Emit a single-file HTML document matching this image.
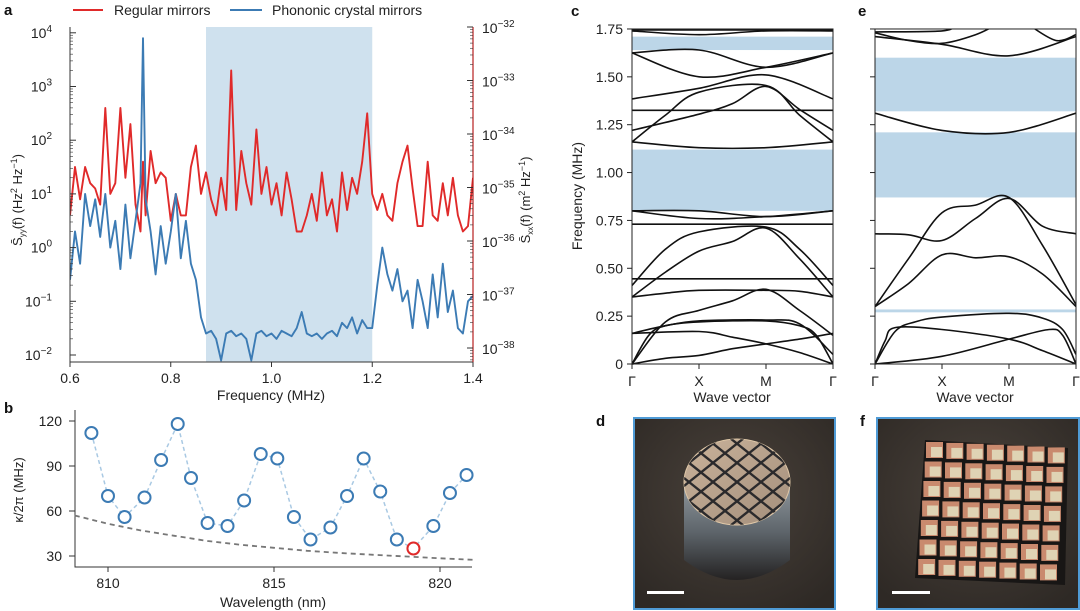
<!DOCTYPE html>
<html><head><meta charset="utf-8">
<style>
html,body{margin:0;padding:0;background:#fff;}
svg{display:block;font-family:"Liberation Sans",Arial,sans-serif;}
</style></head>
<body>
<svg id="fig" width="1080" height="611" viewBox="0 0 1080 611" xmlns="http://www.w3.org/2000/svg">
<defs>
<clipPath id="clipA"><rect x="70" y="27" width="403" height="335"/></clipPath>
<clipPath id="clipC"><rect x="632" y="29" width="201" height="336"/></clipPath>
<clipPath id="clipE"><rect x="875" y="29" width="201" height="336"/></clipPath>
<clipPath id="clipDisk"><ellipse cx="737" cy="482" rx="53" ry="43"/></clipPath>
<radialGradient id="bgd" cx="0.5" cy="0.4" r="0.7"><stop offset="0" stop-color="#4a423b"/><stop offset="1" stop-color="#2e2925"/></radialGradient>
<linearGradient id="disk" x1="0" y1="0" x2="1" y2="1"><stop offset="0" stop-color="#c9b29a"/><stop offset="1" stop-color="#a48f7c"/></linearGradient>
<linearGradient id="body" x1="0" y1="0" x2="0" y2="1"><stop offset="0" stop-color="#8e969c"/><stop offset="0.5" stop-color="#5d646a"/><stop offset="1" stop-color="#242222"/></linearGradient>
</defs>
<g id="panelA"></g>
<g id="panelB"></g>
<g id="panelC"></g>
<g id="panelE"></g>

<g>
<rect x="634" y="418" width="201" height="191" fill="url(#bgd)" stroke="#4f9bd6" stroke-width="2"/>
<path d="M684 485 L684 560 Q737 600 790 560 L790 485 Z" fill="url(#body)"/>
<ellipse cx="737" cy="482" rx="53" ry="43" fill="url(#disk)" stroke="#e0c8a8" stroke-width="1"/>
<g id="diskGrid" clip-path="url(#clipDisk)" stroke="#2b2a2c" stroke-width="2.4"></g>
<rect x="647" y="591" width="37" height="3" fill="#fff"/>
</g>

<g>
<rect x="877" y="418" width="202" height="191" fill="url(#bgd)" stroke="#4f9bd6" stroke-width="2"/>
<g id="tiles"></g>
<rect x="892" y="591" width="38" height="3" fill="#fff"/>
</g>
</svg>
<script>
// ---------- Panel a data (log10 of spectral density) ----------
const freqA = [0.60,0.61,0.62,0.63,0.64,0.65,0.66,0.67,0.68,0.69,0.70,0.71,0.72,0.73,0.74,0.745,0.75,0.76,0.77,0.78,0.79,0.80,0.81,0.82,0.83,0.84,0.85,0.86,0.87,0.88,0.89,0.90,0.91,0.92,0.93,0.94,0.95,0.96,0.97,0.98,0.99,1.00,1.01,1.02,1.03,1.04,1.05,1.06,1.07,1.08,1.09,1.10,1.11,1.12,1.13,1.14,1.15,1.16,1.17,1.18,1.19,1.20,1.21,1.22,1.23,1.24,1.25,1.26,1.27,1.28,1.29,1.30,1.31,1.32,1.33,1.34,1.35,1.36,1.37,1.38,1.39,1.40];
const regularLog = [0.6,1.5,0.9,1.5,1.2,1.1,0.8,2.6,1.0,1.2,2.6,1.3,2.3,0.8,0.3,1.6,0.6,1.8,1.2,1.4,1.3,0.5,1.0,0.6,0.6,1.5,1.9,1.0,1.4,0.9,0.6,1.3,0.7,3.3,0.7,1.8,1.2,0.8,2.2,1.0,1.5,0.8,1.2,0.6,1.4,0.9,0.3,0.3,0.6,1.0,0.5,1.4,0.6,0.9,0.3,1.4,0.7,1.3,1.0,1.6,2.5,1.0,0.7,1.0,0.6,0.5,1.2,1.6,1.9,1.1,0.4,0.4,1.6,0.6,0.5,1.2,0.6,1.3,0.6,0.3,0.4,1.3];
const phononicLog = [-0.6,0.3,-0.3,1.0,0.4,0.9,0.2,1.0,0.0,0.5,-0.4,0.8,-0.2,0.5,1.2,3.9,0.9,0.3,-0.5,0.4,-0.3,0.3,1.0,-0.2,0.5,-0.3,-0.6,-1.3,-1.6,-1.55,-1.7,-2.1,-1.6,-1.55,-1.65,-1.6,-1.7,-2.1,-1.6,-1.55,-1.65,-1.6,-1.7,-1.55,-1.6,-1.65,-1.5,-1.2,-1.6,-1.65,-1.6,-1.7,-1.6,-1.55,-1.65,-1.4,-1.5,-1.3,-1.6,-1.35,-1.5,-1.5,-0.7,0.0,-0.5,-0.8,-0.4,-1.0,-0.8,-1.5,-0.6,-1.0,-1.5,-0.5,-1.3,-0.3,-1.2,-0.8,-1.5,-1.6,-1.0,-0.9];
const gapA = [0.87, 1.20];
const xTicksA = [0.6,0.8,1.0,1.2,1.4];
const xTickLabelsA = ["0.6","0.8","1.0","1.2","1.4"];
const yDecadesA = [-2,-1,0,1,2,3,4];
const rightDecadesA = [-32,-33,-34,-35,-36,-37,-38];

// ---------- Panel b data ----------
const wavelengthB = [809.5,810.0,810.5,811.1,811.6,812.1,812.5,813.0,813.6,814.1,814.6,815.1,815.6,816.1,816.7,817.2,817.7,818.2,818.7,819.2,819.8,820.3,820.8];
const kappaB = [112,70,56,69,94,118,82,52,50,67,98,95,56,41,49,70,95,73,41,35,50,72,84];
const highlightIndexB = 19;
const fitWavelengthB = [809.0,810,811,812,813,814,815,816,817,818,819,820,821];
const fitKappaB = [57,51.5,47,43.5,40,37.5,35.5,33.5,32,30.8,29.7,28.5,27.5];
const xTicksB = [810,815,820];
const yTicksB = [30,60,90,120];

// ---------- Panel c data ----------
const bandsC = [
 [[0,0],[0.5,0.03],[1,0.045],[1.5,0.08],[2,0.105],[2.5,0.13],[3,0.16]],
 [[0,0],[0.25,0.15],[0.5,0.2],[1,0.22],[2,0.225],[2.5,0.2],[2.75,0.15],[3,0]],
 [[0,0],[0.5,0.22],[1,0.28],[1.5,0.33],[2,0.39],[2.5,0.28],[3,0.15]],
 [[0,0.16],[1,0.17],[1.5,0.14],[2,0.105],[2.5,0.06],[3,0]],
 [[0,0.16],[0.5,0.2],[1,0.225],[2,0.23],[2.5,0.21],[3,0.05]],
 [[0,0.35],[0.5,0.37],[1,0.385],[2,0.385],[2.5,0.38],[3,0.35]],
 [[0,0.35],[0.5,0.48],[1,0.59],[1.5,0.64],[2,0.71],[2.5,0.55],[3,0.35]],
 [[0,0.41],[0.5,0.6],[1,0.69],[2,0.715],[2.5,0.6],[3,0.41]],
 [[0,0.445],[3,0.445]],
 [[0,0.73],[3,0.73]],
 [[0,0.8],[1,0.76],[2,0.77],[3,0.8]],
 [[0,0.8],[1,0.8],[2,0.77],[3,0.8]],
 [[0,1.16],[1,1.13],[2,1.13],[3,1.16]],
 [[0,1.16],[0.5,1.3],[1,1.42],[2,1.455],[2.5,1.3],[3,1.16]],
 [[0,1.22],[1,1.305],[1.5,1.36],[2,1.45],[2.5,1.33],[3,1.22]],
 [[0,1.325],[3,1.325]],
 [[0,1.385],[1,1.44],[2,1.51],[3,1.385]],
 [[0,1.625],[1,1.64],[2,1.55],[3,1.625]],
 [[0,1.625],[1,1.5],[2,1.55],[3,1.625]],
 [[0,1.745],[3,1.745]],
 [[0,1.74],[1,1.72],[2,1.74],[3,1.74]]
];
const gapsC = [[0.80,1.12],[1.64,1.71]];
// ---------- Panel e data ----------
const bandsE = [
 [[0,0],[1,0.04],[2,0.13],[2.6,0.18],[2.8,0.15],[3,0]],
 [[0,0],[0.15,0.12],[0.3,0.19],[1,0.18],[2,0.13],[2.5,0.07],[3,0]],
 [[0,0],[0.3,0.17],[0.6,0.22],[1,0.245],[2,0.265],[2.5,0.24],[2.8,0.18],[3,0.05]],
 [[0,0.3],[0.5,0.42],[1,0.57],[1.5,0.555],[2,0.56],[2.5,0.47],[3,0.3]],
 [[0,0.3],[0.5,0.55],[1,0.79],[1.5,0.83],[2,0.87],[2.5,0.62],[3,0.31]],
 [[0,0.68],[0.5,0.675],[1,0.645],[1.5,0.76],[2,0.865],[2.5,0.72],[3,0.68]],
 [[0,1.31],[1,1.22],[2,1.21],[3,1.31]],
 [[0,1.71],[1,1.67],[2,1.61],[3,1.71]],
 [[0,1.73],[0.5,1.69],[1,1.675],[1.5,1.72],[1.8,1.77]],
 [[0,1.735],[1,1.74],[1.2,1.77]],
 [[2.3,1.77],[2.7,1.69],[3,1.72]]
];
const gapsE = [[0.27,0.285],[0.87,1.21],[1.32,1.60]];
const freqTicks = [0,0.25,0.5,0.75,1.0,1.25,1.5,1.75];
const freqTickLabels = ["0","0.25","0.50","0.75","1.00","1.25","1.50","1.75"];
const kTicks = [0,1,2,3];
const kTickLabels = ["Γ","X","M","Γ"];

const NS = "http://www.w3.org/2000/svg";
function mk(parent, tag, attrs, text){
  const e = document.createElementNS(NS, tag);
  for (const k in attrs) e.setAttribute(k, attrs[k]);
  if (text !== undefined) e.textContent = text;
  parent.appendChild(e); return e;
}
function smooth(pts){
  let d = "M"+pts[0][0].toFixed(1)+","+pts[0][1].toFixed(1);
  for (let i=0;i<pts.length-1;i++){
    const p0=pts[Math.max(0,i-1)],p1=pts[i],p2=pts[i+1],p3=pts[Math.min(pts.length-1,i+2)];
    const c1=[p1[0]+(p2[0]-p0[0])/6,p1[1]+(p2[1]-p0[1])/6];
    const c2=[p2[0]-(p3[0]-p1[0])/6,p2[1]-(p3[1]-p1[1])/6];
    d+=" C"+c1[0].toFixed(1)+","+c1[1].toFixed(1)+" "+c2[0].toFixed(1)+","+c2[1].toFixed(1)+" "+p2[0].toFixed(1)+","+p2[1].toFixed(1);
  }
  return d;
}

// ================= Panel a =================
(function(){
  const g = document.getElementById("panelA");
  const xA = f => 70 + (f-0.6)/0.8*403;
  const yA = l => 355 - (l+2)*53.7;
  const sh = mk(g,"rect",{x:xA(gapA[0]),y:27,width:xA(gapA[1])-xA(gapA[0]),height:335,fill:"#cfe1ee"});
  
  
  const series = [[regularLog,"#e02a2a","regular-mirrors-trace"],[phononicLog,"#3c7bb4","phononic-mirrors-trace"]];
  series.forEach(s=>{
    let d = "";
    freqA.forEach((f,i)=>{ d += (i?"L":"M")+xA(f).toFixed(1)+","+yA(s[0][i]).toFixed(1); });
    const p = mk(g,"path",{d:d,fill:"none",stroke:s[1],"stroke-width":1.9,"clip-path":"url(#clipA)","stroke-linejoin":"round"});
    
    
  });
  const ax = mk(g,"path",{d:"M70,27 L70,362 L473,362",fill:"none",stroke:"#333","stroke-width":1});
  
  
  mk(g,"line",{x1:473,y1:27,x2:473,y2:362,stroke:"#b82020","stroke-width":1.2});
  yDecadesA.forEach(dc=>{
    mk(g,"line",{x1:70,y1:yA(dc),x2:76,y2:yA(dc),stroke:"#333"});
    for(let m=2;m<10;m++){ const yy=yA(dc+Math.log10(m)); if(yy>27) mk(g,"line",{x1:70,y1:yy,x2:73,y2:yy,stroke:"#333","stroke-width":0.6}); }
    const t = mk(g,"text",{x:52,y:yA(dc)+5,"text-anchor":"end","font-size":14,fill:"#222"},"10");
    
    
    mk(t,"tspan",{dy:-6,"font-size":10},dc<0?"−"+(-dc):String(dc));
  });
  rightDecadesA.forEach((dc,i)=>{
    const yy = 27 + i*53.5;
    mk(g,"line",{x1:467,y1:yy,x2:473,y2:yy,stroke:"#333"});
    for(let m=2;m<10;m++){ const ym = yy+53.5-Math.log10(m)*53.5; if(ym<362) mk(g,"line",{x1:470,y1:ym,x2:473,y2:ym,stroke:"#333","stroke-width":0.6}); }
    const t = mk(g,"text",{x:482,y:yy+6,"font-size":14,fill:"#222"},"10");
    
    
    mk(t,"tspan",{dy:-6,"font-size":10},"−"+(-dc));
  });
  xTicksA.forEach((f,i)=>{
    mk(g,"line",{x1:xA(f),y1:362,x2:xA(f),y2:367,stroke:"#333"});
    const t = mk(g,"text",{x:xA(f),y:383,"text-anchor":"middle","font-size":14,fill:"#222"},xTickLabelsA[i]);
    
    
  });
  const xt = mk(g,"text",{x:271,y:400,"text-anchor":"middle","font-size":14,fill:"#222"},"Frequency (MHz)");
  
  
  const yt = mk(g,"text",{transform:"translate(22,200) rotate(-90)","text-anchor":"middle","font-size":13,fill:"#222"},"S̄");
  
  
  mk(yt,"tspan",{dy:3,"font-size":8},"yy");
  mk(yt,"tspan",{dy:-3},"(f) (Hz");
  mk(yt,"tspan",{dy:-5,"font-size":9},"2");
  mk(yt,"tspan",{dy:5}," Hz");
  mk(yt,"tspan",{dy:-5,"font-size":9},"−1");
  mk(yt,"tspan",{dy:5},")");
  const yr = mk(g,"text",{transform:"translate(530,200) rotate(-90)","text-anchor":"middle","font-size":13,fill:"#222"},"S̄");
  
  
  mk(yr,"tspan",{dy:3,"font-size":8},"xx");
  mk(yr,"tspan",{dy:-3},"(f) (m");
  mk(yr,"tspan",{dy:-5,"font-size":9},"2");
  mk(yr,"tspan",{dy:5}," Hz");
  mk(yr,"tspan",{dy:-5,"font-size":9},"−1");
  mk(yr,"tspan",{dy:5},")");
  const lg = mk(g,"g",{});
  
  
  mk(lg,"line",{x1:73,y1:10,x2:103,y2:10,stroke:"#e02a2a","stroke-width":2});
  mk(lg,"text",{x:114,y:15,"font-size":14,fill:"#222"},"Regular mirrors");
  mk(lg,"line",{x1:230,y1:10,x2:262,y2:10,stroke:"#3c7bb4","stroke-width":2});
  mk(lg,"text",{x:272,y:15,"font-size":14,fill:"#222"},"Phononic crystal mirrors");
  const la = mk(g,"text",{x:4,y:15,"font-size":15,"font-weight":"bold",fill:"#111"},"a");
  
  
})();

// ================= Panel b =================
(function(){
  const g = document.getElementById("panelB");
  const xB = w => 108 + (w-810)*33.2;
  const yB = v => 556 - (v-30)*1.5;
  mk(g,"path",{d:"M75,410 L75,567 L472,567",fill:"none",stroke:"#333"});
  yTicksB.forEach(v=>{
    mk(g,"line",{x1:69,y1:yB(v),x2:75,y2:yB(v),stroke:"#333"});
    const t = mk(g,"text",{x:62,y:yB(v)+5,"text-anchor":"end","font-size":14,fill:"#222"},String(v));
    
    
  });
  xTicksB.forEach(w=>{
    mk(g,"line",{x1:xB(w),y1:567,x2:xB(w),y2:572,stroke:"#333"});
    const t = mk(g,"text",{x:xB(w),y:588,"text-anchor":"middle","font-size":14,fill:"#222"},String(w));
    
    
  });
  let fd = "";
  fitWavelengthB.forEach((w,i)=>{ fd += (i?"L":"M")+xB(w).toFixed(1)+","+yB(fitKappaB[i]).toFixed(1); });
  const fp = mk(g,"path",{d:fd,fill:"none",stroke:"#777","stroke-width":1.8,"stroke-dasharray":"5,4"});
  
  
  let cd = "";
  wavelengthB.forEach((w,i)=>{ cd += (i?"L":"M")+xB(w).toFixed(1)+","+yB(kappaB[i]).toFixed(1); });
  const cp = mk(g,"path",{d:cd,fill:"none",stroke:"#a9c9e3","stroke-width":1.5,"stroke-dasharray":"4,3"});
  
  
  wavelengthB.forEach((w,i)=>{
    const c = mk(g,"circle",{cx:xB(w),cy:yB(kappaB[i]),r:6,fill:"#fff",stroke:i===highlightIndexB?"#e02a2a":"#3c7bb4","stroke-width":2});
    
    
  });
  const xt = mk(g,"text",{x:273,y:607,"text-anchor":"middle","font-size":14,fill:"#222"},"Wavelength (nm)");
  
  
  const yt = mk(g,"text",{transform:"translate(23,490) rotate(-90)","text-anchor":"middle","font-size":13,fill:"#222"},"κ/2π (MHz)");
  
  
  const lb = mk(g,"text",{x:4,y:413,"font-size":15,"font-weight":"bold",fill:"#111"},"b");
  
  
})();

// ================= Panels c, e =================
function bandPanel(id, x0, bands, gaps, clip, letter, lx, showY){
  const g = document.getElementById(id);
  const xK = k => x0 + k*67;
  const yF = f => 364 - f/0.25*47.86;
  gaps.forEach(gp=>{
    const r = mk(g,"rect",{x:x0,y:yF(gp[1]),width:201,height:yF(gp[0])-yF(gp[1]),fill:"#bcd6e8"});
    
    
  });
  const bg = mk(g,"g",{"clip-path":"url(#"+clip+")"});
  bands.forEach(b=>{
    const pts = b.map(p=>[xK(p[0]),yF(p[1])]);
    const p = mk(bg,"path",{d:smooth(pts),fill:"none",stroke:"#111","stroke-width":1.6});
    
    
  });
  mk(g,"rect",{x:x0,y:yF(1.75),width:201,height:yF(0)-yF(1.75),fill:"none",stroke:"#222","stroke-width":1});
  freqTicks.forEach((f,i)=>{
    mk(g,"line",{x1:x0-5,y1:yF(f),x2:x0,y2:yF(f),stroke:"#222"});
    if(showY){
      const t = mk(g,"text",{x:x0-9,y:yF(f)+5,"text-anchor":"end","font-size":14,fill:"#222"},freqTickLabels[i]);
      
      
    }
  });
  kTicks.forEach((k,i)=>{
    mk(g,"line",{x1:xK(k),y1:364,x2:xK(k),y2:369,stroke:"#222"});
    const t = mk(g,"text",{x:xK(k),y:386,"text-anchor":"middle","font-size":14,fill:"#222"},kTickLabels[i]);
    
    
  });
  const xt = mk(g,"text",{x:x0+100,y:402,"text-anchor":"middle","font-size":14,fill:"#222"},"Wave vector");
  
  
  if(showY){
    const yt = mk(g,"text",{transform:"translate(582,196) rotate(-90)","text-anchor":"middle","font-size":14,fill:"#222"},"Frequency (MHz)");
    
    
  }
  const lb = mk(g,"text",{x:lx,y:16,"font-size":15,"font-weight":"bold",fill:"#111"},letter);
  
  
}
bandPanel("panelC",632,bandsC,gapsC,"clipC","c",571,true);
bandPanel("panelE",875,bandsE,gapsE,"clipE","e",858,false);

(function(){
  const s = document.getElementById("fig");
  const d = mk(s,"text",{x:596,y:426,"font-size":15,"font-weight":"bold",fill:"#111"},"d");
  
  
  const f = mk(s,"text",{x:860,y:426,"font-size":15,"font-weight":"bold",fill:"#111"},"f");
  
  
  const dg = document.getElementById("diskGrid");
  for(let i=-4;i<=4;i++){
    mk(dg,"line",{x1:737+i*24-60,y1:482-60*0.8,x2:737+i*24+60,y2:482+60*0.8});
    mk(dg,"line",{x1:737+i*24+60,y1:482-60*0.8,x2:737+i*24-60,y2:482+60*0.8});
  }
  const tg = document.getElementById("tiles");
  mk(tg,"path",{d:"M925,440 L1068,448 L1065,585 L915,578 Z",fill:"#181615"});
  for(let r=0;r<7;r++){
    for(let c=0;c<7;c++){
      const x = 926 + c*20.3 - r*1.3;
      const y = 442 + r*19.5 + c*0.9;
      mk(tg,"rect",{x:x,y:y,width:17,height:16,fill:"#c98a6e"});
      mk(tg,"rect",{x:x+5,y:y+5,width:11,height:10,fill:"#dfd3b4"});
    }
  }
})();
</script>
</body></html>
